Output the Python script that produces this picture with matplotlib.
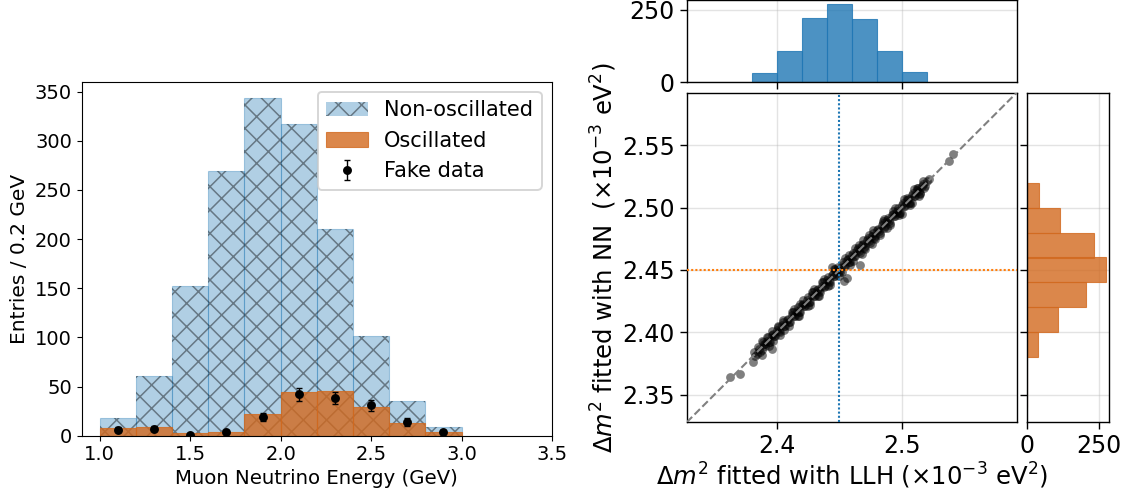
import numpy as np
import matplotlib
matplotlib.use("Agg")
import matplotlib.pyplot as plt
from matplotlib.patches import Patch

# ---------------- data ----------------
energy_edges = [1.0, 1.2, 1.4, 1.6, 1.8, 2.0, 2.2, 2.4, 2.6, 2.8, 3.0]
energy_centers = [1.1, 1.3, 1.5, 1.7, 1.9, 2.1, 2.3, 2.5, 2.7, 2.9]
non_oscillated = [18, 61, 152, 269, 343, 317, 210, 101, 35, 9]
oscillated = [8, 9, 3, 4, 22, 44, 45, 29, 13, 4]
fake_data = [6, 7, 1, 4, 19, 42, 38, 31, 14, 4]

llh_edges = [2.38, 2.40, 2.42, 2.44, 2.46, 2.48, 2.50, 2.52]
llh_counts = [32, 108, 222, 271, 219, 108, 35]

nn_edges = [2.34, 2.36, 2.38, 2.40, 2.42, 2.44, 2.46, 2.48, 2.50, 2.52, 2.54, 2.56, 2.58]
nn_counts = [1, 0, 39, 108, 204, 273, 232, 115, 42, 0, 1, 1]

true_dm2 = 2.45

fit_llh = [
    2.382, 2.384, 2.386, 2.388, 2.390, 2.392, 2.394, 2.396, 2.398, 2.400,
    2.402, 2.404, 2.406, 2.408, 2.410, 2.412, 2.414, 2.416, 2.418, 2.420,
    2.422, 2.424, 2.426, 2.428, 2.430, 2.432, 2.434, 2.436, 2.438, 2.440,
    2.442, 2.444, 2.446, 2.448, 2.450, 2.452, 2.454, 2.456, 2.458, 2.460,
    2.462, 2.464, 2.466, 2.468, 2.470, 2.472, 2.474, 2.476, 2.478, 2.480,
    2.482, 2.484, 2.486, 2.488, 2.490, 2.492, 2.494, 2.496, 2.498, 2.500,
    2.502, 2.504, 2.506, 2.508, 2.510, 2.512, 2.514, 2.516, 2.518, 2.520,
    2.383, 2.387, 2.391, 2.395, 2.399, 2.403, 2.407, 2.411, 2.415, 2.419,
    2.423, 2.427, 2.431, 2.435, 2.439, 2.443, 2.447, 2.451, 2.455, 2.459,
    2.463, 2.467, 2.471, 2.475, 2.479, 2.483, 2.487, 2.491, 2.495, 2.499,
    2.503, 2.507, 2.511, 2.515, 2.519,
    2.385, 2.389, 2.393, 2.397, 2.401, 2.405, 2.409, 2.413, 2.417, 2.421,
    2.425, 2.429, 2.433, 2.437, 2.441, 2.445, 2.449, 2.453, 2.457, 2.461,
    2.465, 2.469, 2.473, 2.477, 2.481, 2.485, 2.489, 2.493, 2.497, 2.501,
    2.505, 2.509, 2.513, 2.517,
    2.392, 2.401, 2.412, 2.419, 2.428, 2.436, 2.447, 2.458, 2.466, 2.474,
    2.485, 2.493, 2.504, 2.512,
    2.397, 2.406, 2.417, 2.425, 2.433, 2.441, 2.452, 2.461, 2.471, 2.479,
    2.488, 2.498, 2.508, 2.515,
    2.388, 2.396, 2.405, 2.414, 2.421, 2.430, 2.438, 2.446, 2.455, 2.463,
    2.469, 2.477, 2.486, 2.495, 2.502, 2.510, 2.517,
    2.394, 2.403, 2.410, 2.418, 2.427, 2.434, 2.443, 2.450, 2.459, 2.468,
    2.476, 2.483, 2.491, 2.500, 2.507, 2.514,
    2.363, 2.371, 2.381, 2.388, 2.396, 2.391, 2.4536, 2.4563, 2.467, 2.4443,
    2.5216, 2.5379, 2.5411,
]
fit_nn = [
    2.384, 2.383, 2.387, 2.386, 2.391, 2.393, 2.392, 2.398, 2.397, 2.402,
    2.401, 2.406, 2.405, 2.410, 2.408, 2.414, 2.413, 2.417, 2.416, 2.422,
    2.421, 2.426, 2.424, 2.430, 2.429, 2.434, 2.433, 2.437, 2.436, 2.442,
    2.441, 2.446, 2.445, 2.450, 2.449, 2.454, 2.453, 2.458, 2.456, 2.462,
    2.461, 2.466, 2.465, 2.470, 2.468, 2.474, 2.473, 2.477, 2.476, 2.482,
    2.481, 2.486, 2.484, 2.490, 2.489, 2.494, 2.493, 2.497, 2.496, 2.502,
    2.501, 2.506, 2.504, 2.510, 2.509, 2.514, 2.513, 2.517, 2.516, 2.521,
    2.381, 2.384, 2.389, 2.392, 2.397, 2.400, 2.405, 2.408, 2.413, 2.416,
    2.421, 2.424, 2.429, 2.432, 2.437, 2.440, 2.445, 2.448, 2.453, 2.456,
    2.461, 2.464, 2.469, 2.472, 2.477, 2.480, 2.485, 2.488, 2.493, 2.496,
    2.501, 2.504, 2.509, 2.512, 2.517,
    2.388, 2.392, 2.396, 2.399, 2.404, 2.408, 2.411, 2.416, 2.420, 2.423,
    2.428, 2.432, 2.435, 2.440, 2.444, 2.447, 2.452, 2.456, 2.459, 2.464,
    2.468, 2.471, 2.476, 2.480, 2.483, 2.488, 2.492, 2.495, 2.500, 2.504,
    2.507, 2.512, 2.516, 2.519,
    2.396, 2.405, 2.416, 2.423, 2.432, 2.440, 2.451, 2.462, 2.470, 2.478,
    2.489, 2.497, 2.508, 2.516,
    2.393, 2.402, 2.413, 2.421, 2.429, 2.437, 2.448, 2.457, 2.467, 2.475,
    2.484, 2.494, 2.504, 2.511,
    2.393, 2.401, 2.410, 2.419, 2.426, 2.435, 2.443, 2.451, 2.460, 2.468,
    2.474, 2.482, 2.491, 2.500, 2.507, 2.515, 2.521,
    2.389, 2.398, 2.405, 2.413, 2.422, 2.429, 2.438, 2.445, 2.454, 2.463,
    2.471, 2.478, 2.486, 2.495, 2.502, 2.509,
    2.364, 2.367, 2.376, 2.382, 2.387, 2.391, 2.4412, 2.4438, 2.454, 2.4526,
    2.5228, 2.5372, 2.543,
]

# ---------------- style ----------------
DPI = 140
K = 100.0 / DPI          # sizes below are given as points at 100 dpi
W, H = 1130, 493
BLUE = "tab:blue"
ORANGE = "#d2691e"

plt.rcParams["hatch.linewidth"] = 1.1 * K
plt.rcParams["axes.linewidth"] = 0.8 * K

fig = plt.figure(figsize=(W / DPI, H / DPI), dpi=DPI)

def frac(x0, y0, x1, y1):
    return [x0 / W, 1 - y1 / H, (x1 - x0) / W, (y1 - y0) / H]

# ---------------- left panel ----------------
axL = fig.add_axes(frac(81.7, 81.7, 552, 435.7))
widths = np.diff(energy_edges)
axL.bar(energy_edges[:-1], non_oscillated, width=widths, align="edge",
        color=BLUE, alpha=0.35, edgecolor=BLUE, linewidth=0.8 * K, zorder=1)
axL.bar(energy_edges[:-1], non_oscillated, width=widths, align="edge",
        fill=False, hatch="xx", edgecolor="k", alpha=0.42, linewidth=0, zorder=1.5)
axL.bar(energy_edges[:-1], oscillated, width=widths, align="edge",
        color=ORANGE, alpha=0.8, edgecolor=ORANGE, linewidth=0.8 * K, zorder=2)
eb = axL.errorbar(energy_centers, fake_data, yerr=np.sqrt(fake_data), fmt="o",
                  color="k", ms=5 * K, capsize=2.2 * K, elinewidth=1.0 * K,
                  capthick=1.0 * K, zorder=3)
axL.set_xlim(0.9, 3.5)
axL.set_ylim(0, 360)
axL.set_xticks([1.0, 1.5, 2.0, 2.5, 3.0, 3.5])
axL.set_yticks([0, 50, 100, 150, 200, 250, 300, 350])
axL.tick_params(labelsize=14 * K, length=3.5 * K, width=0.8 * K, pad=3.5 * K)
axL.set_xlabel("Muon Neutrino Energy (GeV)", fontsize=14.2 * K, labelpad=3 * K)
axL.set_ylabel("Entries / 0.2 GeV", fontsize=14.5 * K, labelpad=4 * K)
h_non = Patch(facecolor=(0.122, 0.467, 0.706, 0.35), edgecolor=(0, 0, 0, 0.42),
              linewidth=0, hatch="xx", label="Non-oscillated")
h_osc = Patch(facecolor=ORANGE, alpha=0.8, edgecolor=ORANGE, linewidth=0.8 * K,
              label="Oscillated")
axL.legend(handles=[h_non, h_osc, eb], labels=["Non-oscillated", "Oscillated", "Fake data"],
           loc="upper right", fontsize=15 * K, handlelength=2.0)

# ---------------- right panel ----------------
lims = (2.328, 2.592)
axM = fig.add_axes(frac(686.7, 92.7, 1016.7, 422.3))
axT = fig.add_axes(frac(686.7, -0.5, 1016.7, 82.0), sharex=axM)
axR = fig.add_axes(frac(1026.7, 92.7, 1109.3, 422.3), sharey=axM)

for ax in (axM, axT, axR):
    ax.grid(True, color="#b0b0b0", alpha=0.35, linewidth=1.0 * K)
    ax.set_axisbelow(True)
    ax.tick_params(length=5 * K, width=1.0 * K, pad=3.5 * K, labelsize=17 * K)
    for sp in ax.spines.values():
        sp.set_linewidth(1.0 * K)

axM.scatter(fit_llh, fit_nn, s=40 * K * K, color="k", alpha=0.5, linewidths=0, zorder=3)
axM.plot(lims, lims, "--", color="gray", lw=1.5 * K, zorder=4)
axM.axvline(true_dm2, color="tab:blue", ls=(0, (1, 1)), lw=1.5 * K, zorder=5)
axM.axhline(true_dm2, color="tab:orange", ls=(0, (1, 1)), lw=1.5 * K, zorder=5)
axM.set_xlim(*lims)
axM.set_ylim(*lims)
axM.set_xticks([2.4, 2.5])
axM.set_yticks([2.35, 2.40, 2.45, 2.50, 2.55])
axM.set_yticklabels(["2.35", "2.40", "2.45", "2.50", "2.55"])
axM.set_xticklabels(["2.4", "2.5"])
axM.set_xlabel(r"$\Delta m^2$ fitted with LLH ($\times10^{-3}$ eV$^2$)",
               fontsize=17.5 * K, labelpad=2 * K)
axM.set_ylabel(r"$\Delta m^2$ fitted with NN  ($\times10^{-3}$ eV$^2$)",
               fontsize=17.5 * K, labelpad=2 * K)

axT.hist(llh_edges[:-1], bins=llh_edges, weights=llh_counts, color=BLUE, alpha=0.8,
         edgecolor=BLUE, linewidth=0.8 * K)
axT.set_ylim(0, 285)
axT.set_yticks([0, 250])
axT.tick_params(labelbottom=False)

axR.hist(nn_edges[:-1], bins=nn_edges, weights=nn_counts, orientation="horizontal",
         color=ORANGE, alpha=0.8, edgecolor=ORANGE, linewidth=0.8 * K)
axR.set_xlim(0, 285)
axR.set_xticks([0, 250])
axR.tick_params(labelleft=False)

fig.savefig("out.png", dpi=DPI)
